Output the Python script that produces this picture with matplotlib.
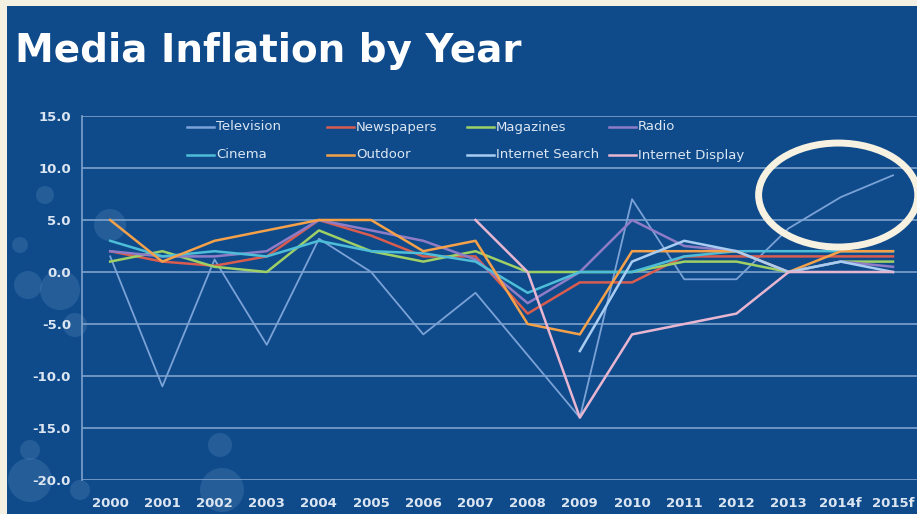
import numpy as np
import matplotlib.pyplot as plt
from matplotlib.patches import Rectangle, Ellipse, Circle
from matplotlib.lines import Line2D

years = ['2000', '2001', '2002', '2003', '2004', '2005', '2006', '2007',
         '2008', '2009', '2010', '2011', '2012', '2013', '2014f', '2015f']

# yearly inflation per medium, % (nan = no figure that year)
nan = np.nan
television = [1.5, -11, 1.2, -7, 3.2, 0, -6, -2, -8, -14, 7, -0.7, -0.7, 4.2, 7.2, 9.3]
newspapers = [2, 1, 0.6, 1.5, 5, 3.5, 1.5, 1.5, -4, -1, -1, 1.5, 1.5, 1.5, 1.5, 1.5]
magazines = [1, 2, 0.5, 0, 4, 2, 1, 2, 0, 0, 0, 1, 1, 0, 1, 1]
radio = [2, 1.5, 1.5, 2, 5, 4, 3, 1.2, -3, 0, 5, 2.5, 2, 0, 1, 0.5]
cinema = [3, 1.5, 2, 1.5, 3, 2, 1.8, 1, -2, 0, 0, 1.5, 2, 2, 2, 2]
outdoor = [5, 1, 3, 4, 5, 5, 2, 3, -5, -6, 2, 2, 2, 0, 2, 2]
internet_search = [nan, nan, nan, nan, nan, nan, nan, nan, nan, -7.6, 1, 3, 2, 0, 1, 0]
internet_display = [nan, nan, nan, nan, nan, nan, nan, 5, 0, -14, -6, -5, -4, 0, 0, 0]

series = [
    ('Television', television, '#7ba2d6', 1.3),
    ('Newspapers', newspapers, '#d95c4f', 1.8),
    ('Magazines', magazines, '#9fd066', 1.8),
    ('Radio', radio, '#8f7cc6', 1.8),
    ('Cinema', cinema, '#4dbdd8', 1.8),
    ('Outdoor', outdoor, '#f5a14a', 1.8),
    ('Internet Search', internet_search, '#a9cdf2', 1.8),
    ('Internet Display', internet_display, '#e9b6d2', 1.8),
]

BG = '#0f4b8b'
GRID = '#7ea2cc'
TXT = '#dce6f2'
W, H = 917, 514

fig = plt.figure(figsize=(W / 100, H / 100), dpi=100)
fig.patch.set_facecolor('#f5f1e2')
fig.patches.append(Rectangle((7 / W, 0), 1, 1 - 6 / H, transform=fig.transFigure,
                             facecolor=BG, edgecolor='none', zorder=-10))

# faint background bubbles on the left side (pixel positions -> inches)
for cx, cy, r in [(20, 245, 8), (28, 285, 14), (60, 290, 20), (75, 325, 12),
                  (30, 450, 10), (30, 480, 22), (220, 445, 12), (222, 490, 22),
                  (80, 490, 10), (110, 225, 16), (45, 195, 9)]:
    fig.patches.append(Circle((cx / 100, (H - cy) / 100), r / 100,
                              transform=fig.dpi_scale_trans,
                              facecolor='#4f7fb5', edgecolor='none', alpha=0.35, zorder=-5))

fig.text(15 / W, 1 - 62 / H, 'Media Inflation by Year', color='white',
         fontsize=28, fontweight='bold', family='DejaVu Sans', va='baseline')

ax = fig.add_axes([82 / W, 1 - 480 / H, 1 - 82 / W, (480 - 116) / H])
ax.set_facecolor('none')

x = np.arange(len(years))
for name, vals, color, lw in series:
    ax.plot(x, vals, color=color, linewidth=lw, label=name)

ax.set_xlim(-0.54, 15.46)
ax.set_ylim(-20, 15)
ax.set_yticks(np.arange(-20, 16, 5))
ax.set_yticklabels(['%.1f' % v for v in np.arange(-20, 16, 5)])
ax.set_xticks(x)
ax.set_xticklabels(years)
ax.tick_params(length=0, colors=TXT, labelsize=9.5, pad=8)
for lab in ax.get_xticklabels() + ax.get_yticklabels():
    lab.set_fontweight('bold')
ax.tick_params(axis='x', pad=12)

ax.grid(axis='y', color=GRID, linewidth=1.2)
ax.set_axisbelow(True)
for side in ['top', 'right', 'bottom']:
    ax.spines[side].set_visible(False)
ax.spines['left'].set_color(GRID)
ax.spines['left'].set_linewidth(1.2)

# legend laid out in fixed-width columns, 4 entries per row
col_x = [187, 327, 467, 609]
row_y = [127, 155]
for i, (name, vals, color, lw) in enumerate(series):
    px, py = col_x[i % 4], row_y[i // 4]
    fig.add_artist(Line2D([px / W, (px + 27) / W], [1 - py / H, 1 - py / H],
                          color=color, linewidth=1.8, transform=fig.transFigure))
    fig.text((px + 29) / W, 1 - py / H, name, color=TXT, fontsize=9.5,
             va='center', ha='left')

# highlight around the forecast years
ax.add_patch(Ellipse((13.95, 7.4), 3.05, 10.0, fill=False, edgecolor='#f6f1e1',
                     linewidth=5, clip_on=False, zorder=5))

fig.savefig('out.png', dpi=100, facecolor=fig.get_facecolor())
